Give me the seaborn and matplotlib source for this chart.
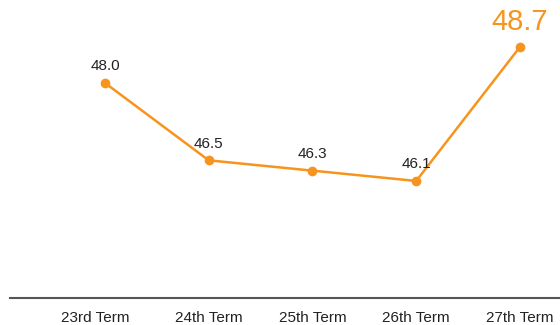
import numpy as np
import pandas as pd
import seaborn as sns
import matplotlib.pyplot as plt

terms = ["23rd Term", "24th Term", "25th Term", "26th Term", "27th Term"]
values = [48.0, 46.5, 46.3, 46.1, 48.7]

ORANGE = "#f7941d"

sns.set_theme(style="white")
plt.rcParams["font.family"] = ["Liberation Sans", "DejaVu Sans"]

df = pd.DataFrame({"pos": np.arange(len(terms)), "term": terms, "value": values})

fig = plt.figure(figsize=(5.6, 3.25), dpi=100)
ax = fig.add_axes([10 / 560, 27 / 325, 550 / 560, 298 / 325])

sns.lineplot(data=df, x="pos", y="value", ax=ax, color=ORANGE, linewidth=1.8,
             marker="o", markersize=7, markeredgewidth=0, legend=False)

# value labels: last one highlighted
for i, v in enumerate(values):
    if i == len(values) - 1:
        ax.annotate(f"{v:.1f}", (i, v), xytext=(0, 8), textcoords="offset points",
                    ha="center", va="bottom", fontsize=21, color=ORANGE)
    else:
        ax.annotate(f"{v:.1f}", (i, v), xytext=(0, 7), textcoords="offset points",
                    ha="center", va="bottom", fontsize=11, color="#222222")

ax.set_xlim(-0.916, 4.386)
ax.set_ylim(43.83, 49.61)
ticks = np.arange(len(terms), dtype=float)
ticks[0] -= 0.09  # first label sits a bit left of its point
ax.set_xticks(ticks)
ax.set_xticklabels(terms, fontsize=11, color="#222222")
ax.tick_params(axis="x", length=0, pad=9)
ax.set_yticks([])
ax.set_xlabel("")
ax.set_ylabel("")
for s in ["top", "right", "left"]:
    ax.spines[s].set_visible(False)
ax.spines["bottom"].set_color("#555555")
ax.spines["bottom"].set_linewidth(1.5)

fig.savefig("out.png", dpi=100)
